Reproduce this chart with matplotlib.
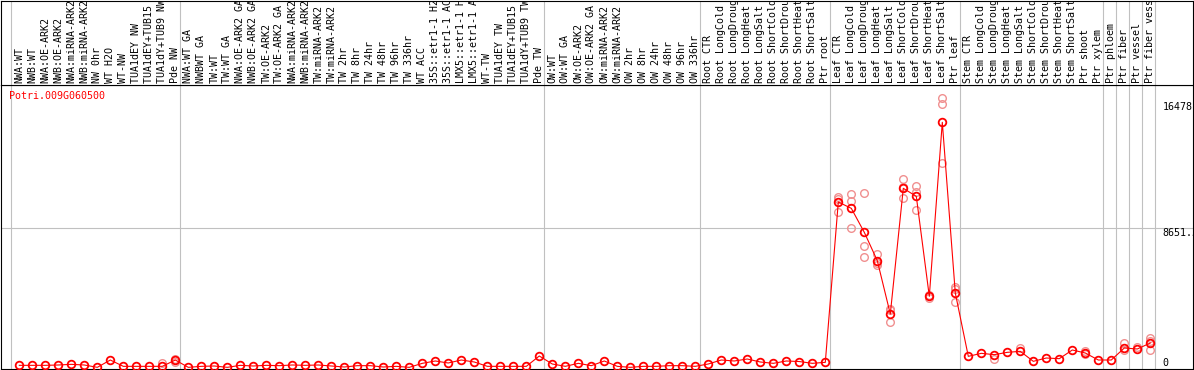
import matplotlib
matplotlib.use("Agg")
import matplotlib.pyplot as plt
import matplotlib.transforms as mtransforms

gene = "Potri.009G060500"

samples = [
    "NWA:WT", "NWB:WT", "NWA:OE-ARK2", "NWB:OE-ARK2", "NWA:miRNA-ARK2",
    "NWB:miRNA-ARK2", "NW 0hr", "WT H2O", "WT-NW", "TUA1dEY NW",
    "TUA1dEY+TUB15 NW", "TUA1dY+TUB9 NW", "Pde NW",
    "NWA:WT GA", "NWBWT GA", "TW:WT", "TW:WT GA", "NWA:OE-ARK2 GA",
    "NWB:OE-ARK2 GA", "TW:OE-ARK2", "TW:OE-ARK2 GA", "NWA:miRNA-ARK2",
    "NWB:miRNA-ARK2", "TW:miRNA-ARK2", "TW:miRNA-ARK2", "TW 2hr", "TW 8hr",
    "TW 24hr", "TW 48hr", "TW 96hr", "TW 336hr", "WT ACC",
    "35S::etr1-1 H2O", "35S::etr1-1 ACC", "LMX5::etr1-1 H2O",
    "LMX5::etr1-1 ACC", "WT-TW", "TUA1dEY TW", "TUA1dEY+TUB15 TW",
    "TUA1dY+TUB9 TW", "Pde TW",
    "OW:WT", "OW:WT GA", "OW:OE-ARK2", "OW:OE-ARK2 GA", "OW:miRNA-ARK2",
    "OW:miRNA-ARK2", "OW 2hr", "OW 8hr", "OW 24hr", "OW 48hr", "OW 96hr",
    "OW 336hr",
    "Root CTR", "Root LongCold", "Root LongDrought", "Root LongHeat",
    "Root LongSalt", "Root ShortCold", "Root ShortDrought", "Root ShortHeat",
    "Root ShortSalt", "Ptr root",
    "Leaf CTR", "Leaf LongCold", "Leaf LongDrought", "Leaf LongHeat",
    "Leaf LongSalt", "Leaf ShortCold", "Leaf ShortDrought", "Leaf ShortHeat",
    "Leaf ShortSalt", "Ptr leaf",
    "Stem CTR", "Stem LongCold", "Stem LongDrought", "Stem LongHeat",
    "Stem LongSalt", "Stem ShortCold", "Stem ShortDrought", "Stem ShortHeat",
    "Stem ShortSalt", "Ptr shoot", "Ptr xylem",
    "Ptr phloem", "Ptr fiber", "Ptr vessel", "Ptr fiber vessel",
]

means = [
    165, 165, 165, 186, 227, 186, 41, 495, 103, 103, 103, 103, 495,
    41, 103, 124, 41, 165, 124, 165, 144, 186, 165, 186, 124, 62, 144,
    144, 62, 103, 41, 289, 434, 310, 495, 372, 103, 103, 103, 103, 743,
    248, 103, 289, 144, 434, 103, 41, 103, 103, 144, 144, 103,
    248, 495, 434, 557, 372, 289, 434, 400, 289, 351,
    10280, 9888, 8402, 6647, 3344, 11127, 10631, 4438, 15214, 4645,
    722, 908, 826, 970, 1032, 413, 619, 578, 1115, 929, 495,
    495, 1239, 1177, 1548,
]

# replicate measurements (only those that stand apart from the mean)
rep_idx = [11, 12, 12,
           63, 63, 63, 64, 64, 64, 65, 65, 65, 66, 66, 66, 67, 67, 67,
           68, 68, 68, 69, 69, 69, 70, 70, 71, 71, 71, 72, 72, 72,
           75, 77, 82, 82, 85, 85, 86, 87, 87, 87]
rep_vals = [290, 557, 372,
            10569, 10466, 9640, 10776, 10322, 8650, 10817, 7555, 6854,
            7060, 6523, 6358, 3633, 2828, 3571, 11684, 10507, 11190,
            11271, 10920, 9764, 4500, 4355, 16700, 16329, 12675,
            5037, 4872, 4067,
            537, 1259, 1073, 846, 1569, 1115, 1321, 1837, 1672, 1094]

group_sizes = [13, 28, 12, 10, 10, 11, 1, 1, 1, 1]

tick_values = [16478, 8651, 0]
tick_labels = ["16478", "8651.5", "0"]

plt.rcParams['font.family'] = ['DejaVu Sans Mono']
plt.rcParams['font.size'] = 7.2

W, H = 1194, 370
fig = plt.figure(figsize=(W / 100, H / 100), dpi=100)
ax = fig.add_axes([1 / W, 1 / H, 1192 / W, 284 / H])
ax_lab = fig.add_axes([1 / W, 285 / H, 1192 / W, 84.5 / H])

# x: sample i sits at pixel 19.3 + 13*i ; y: 0 at pixel 368, 61.93 units per pixel
xlim = ((1 - 19.3) / 13, (1193 - 19.3) / 13)
for a in (ax, ax_lab):
    a.set_xlim(*xlim)
    a.set_xticks([])
    a.set_yticks([])
    for sp in a.spines.values():
        sp.set_color('black')
        sp.set_linewidth(0.8)
ax.set_ylim(-61.93, 17526)
ax_lab.set_ylim(0, 1)

# group separators
starts = [0]
for g in group_sizes:
    starts.append(starts[-1] + g)
bounds = [s - 0.62 for s in starts]
for b in bounds:
    ax.axvline(b, color='#c0c0c0', lw=0.8, zorder=1)
    ax_lab.axvline(b, color='#c0c0c0', lw=0.8, zorder=1)
ax.axhline(tick_values[1], color='#c0c0c0', lw=0.8, zorder=1)

x = list(range(len(samples)))
ax.plot(rep_idx, rep_vals, ls='none', marker='o', ms=5.5, mfc='none',
        mec='#f09090', mew=1.0, zorder=3)
ax.plot(x, means, color='red', lw=0.8, marker='o', ms=5.5, mfc='none',
        mec='red', mew=1.3, zorder=4)

# sample names
lab_trans = mtransforms.blended_transform_factory(ax_lab.transData, ax_lab.transAxes)
for i, s in enumerate(samples):
    ax_lab.text(i, 2 / 84.5, s, rotation=90, ha='center', va='bottom',
                transform=lab_trans, clip_on=True)

# gene name and value labels
tr = mtransforms.blended_transform_factory(ax.transData, ax.transAxes)
ax.text(-0.77, 1 - 6 / 284, gene, color='red', ha='left', va='top', transform=tr)
for v, lbl in zip(tick_values, tick_labels):
    ax.text(87.95, v, lbl, ha='left', va='bottom' if v == 0 else 'top',
            clip_on=True)

fig.savefig("out.png", dpi=100)
